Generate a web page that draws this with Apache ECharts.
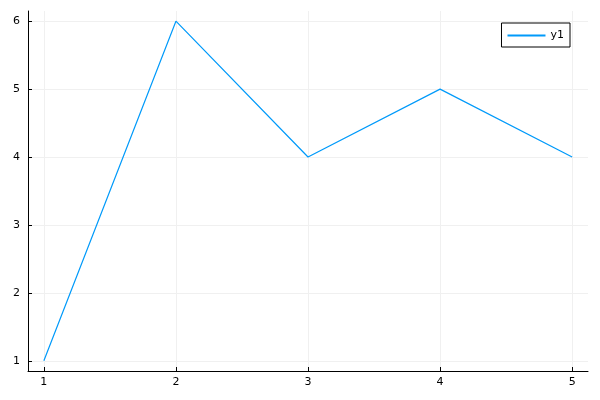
<!DOCTYPE html>
<html>
<head>
<meta charset="utf-8">
<script src="https://cdn.jsdelivr.net/npm/echarts@6/dist/echarts.min.js"></script>
<style>
  html, body { margin: 0; padding: 0; background: #fff; }
  #main { width: 600px; height: 400px; }
</style>
</head>
<body>
<div id="main"></div>
<script>
// data
const xVals = [1, 2, 3, 4, 5];
const y1 = [1, 6, 4, 5, 4];
const xTicks = [1, 2, 3, 4, 5];
const yTicks = [1, 2, 3, 4, 5, 6];
const seriesName = 'y1';

const points = xVals.map((x, i) => [x, y1[i]]);
const font = 'DejaVu Sans';
const lineColor = '#009AFA';

const chart = echarts.init(document.getElementById('main'));
chart.setOption({
  animation: false,
  backgroundColor: '#fff',
  grid: { left: 28, right: 12, top: 11, bottom: 29, containLabel: false },
  legend: {
    right: 30, top: 23,
    data: [{ name: seriesName, itemStyle: { color: lineColor, borderWidth: 0 } }],
    icon: 'rect',
    itemWidth: 38, itemHeight: 2,
    itemGap: 6,
    borderColor: '#000', borderWidth: 1, borderRadius: 0,
    padding: [7, 6, 6, 6],
    textStyle: { fontFamily: font, fontSize: 11, color: '#000' }
  },
  xAxis: {
    type: 'value',
    min: 0.88, max: 5.12,
    interval: 1,
    axisLine: { show: true, onZero: false, lineStyle: { color: '#000', width: 1 } },
    axisTick: { show: true, inside: true, length: 4, lineStyle: { color: '#000' },
      customValues: xTicks },
    axisLabel: { fontFamily: font, fontSize: 11, color: '#000', margin: 6,
      customValues: xTicks, showMinLabel: true, showMaxLabel: true },
    splitLine: { show: true, lineStyle: { color: '#f0f0f0', width: 1 } }
  },
  yAxis: {
    type: 'value',
    min: 0.85, max: 6.15,
    axisLine: { show: true, onZero: false, lineStyle: { color: '#000', width: 1 } },
    axisTick: { show: true, inside: true, length: 4, lineStyle: { color: '#000' },
      customValues: yTicks },
    axisLabel: { fontFamily: font, fontSize: 11, color: '#000', margin: 8,
      customValues: yTicks },
    splitLine: { show: true, lineStyle: { color: '#f0f0f0', width: 1 } }
  },
  series: [{
    name: seriesName,
    type: 'line',
    data: points,
    showSymbol: false,
    symbol: 'none',
    lineStyle: { color: lineColor, width: 1.2 },
    itemStyle: { color: lineColor }
  }]
});
</script>
</body>
</html>
